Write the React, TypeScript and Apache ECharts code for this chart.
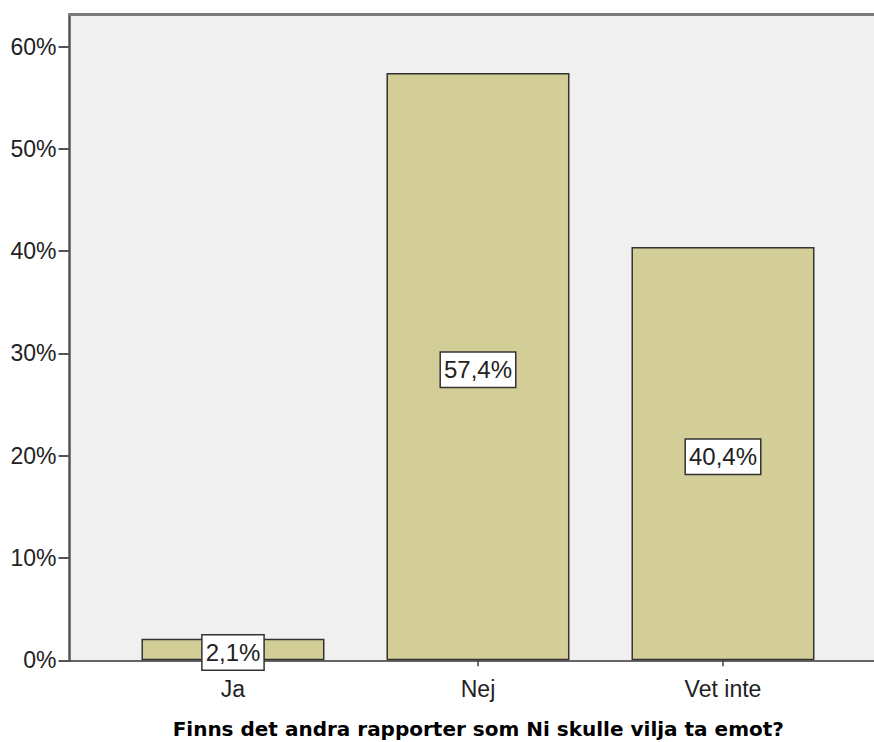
import React, { useEffect, useRef } from "react";
import * as echarts from "echarts";

const categories = ["Ja", "Nej", "Vet inte"];
const percentValues = [2.1, 57.4, 40.4];
const yTickValues = [0, 10, 20, 30, 40, 50, 60];
const xTitle = "Finns det andra rapporter som Ni skulle vilja ta emot?";

export default function App() {
  const ref = useRef<HTMLDivElement>(null);

  useEffect(() => {
    document.body.style.margin = "0";
    document.body.style.overflow = "hidden";
    if (!ref.current) return;
    const chart = echarts.init(ref.current, undefined, { renderer: "svg" });
    const catIdx = categories.map((_, i) => i);
    const xMin = -0.6673;
    const xMax = 2.6164;
    const option: any = {
      animation: false,
      grid: {
        left: 69.5,
        top: 14.5,
        right: 0,
        bottom: 81.7,
        containLabel: false,
        outerBoundsMode: "none",
        show: true,
        backgroundColor: "#f0f0f0",
        borderWidth: 0,
      },
      xAxis: [
        {
          type: "value",
          min: xMin,
          max: xMax,
          splitLine: { show: false },
          axisLine: { show: true, onZero: false, lineStyle: { color: "#333", width: 1.5 } },
          axisTick: {
            show: true,
            customValues: catIdx,
            length: 6,
            lineStyle: { color: "#444", width: 1.5 },
          },
          axisLabel: {
            customValues: catIdx,
            formatter: (v: number) => categories[Math.round(v)] ?? "",
            fontFamily: "Liberation Sans, Arial, sans-serif",
            fontSize: 23,
            color: "#222",
            margin: 17,
          },
          name: xTitle,
          nameLocation: "middle",
          nameGap: 59,
          nameTextStyle: {
            fontFamily: "DejaVu Sans, sans-serif",
            fontWeight: "bold",
            fontSize: 20,
            color: "#000",
            padding: [0, 0, 0, 13],
          },
        },
        {
          type: "value",
          position: "top",
          min: xMin,
          max: xMax,
          splitLine: { show: false },
          axisLine: { show: true, onZero: false, lineStyle: { color: "#7a7a7a", width: 3 } },
          axisTick: { show: false },
          axisLabel: { show: false },
        },
      ],
      yAxis: {
        type: "value",
        min: 0,
        max: 63.13,
        splitLine: { show: false },
        axisLine: { show: true, onZero: false, lineStyle: { color: "#555", width: 2.5 } },
        axisTick: {
          show: true,
          customValues: yTickValues,
          length: 11,
          lineStyle: { color: "#555", width: 2 },
        },
        axisLabel: {
          customValues: yTickValues,
          formatter: (v: number) => `${v}%`,
          fontFamily: "Liberation Sans, Arial, sans-serif",
          fontSize: 23,
          color: "#222",
          margin: 13,
        },
      },
      series: [
        {
          type: "bar",
          xAxisIndex: 0,
          barWidth: 183,
          data: percentValues.map((v, i) => [i, v]),
          itemStyle: {
            color: "#d3ce97",
            borderColor: "#333",
            borderWidth: 1.5,
          },
          label: {
            show: true,
            position: "inside",
            offset: [0, 3],
            formatter: (p: any) => `${p.value[1].toFixed(1).replace(".", ",")}%`,
            fontFamily: "Liberation Sans, Arial, sans-serif",
            fontSize: 24,
            color: "#222",
            backgroundColor: "#fff",
            borderColor: "#333",
            borderWidth: 1.5,
            padding: [6, 3, 4, 3],
          },
        },
      ],
    };
    chart.setOption(option);
    return () => chart.dispose();
  }, []);

  return <div ref={ref} style={{ width: 874, height: 742 }} />;
}
